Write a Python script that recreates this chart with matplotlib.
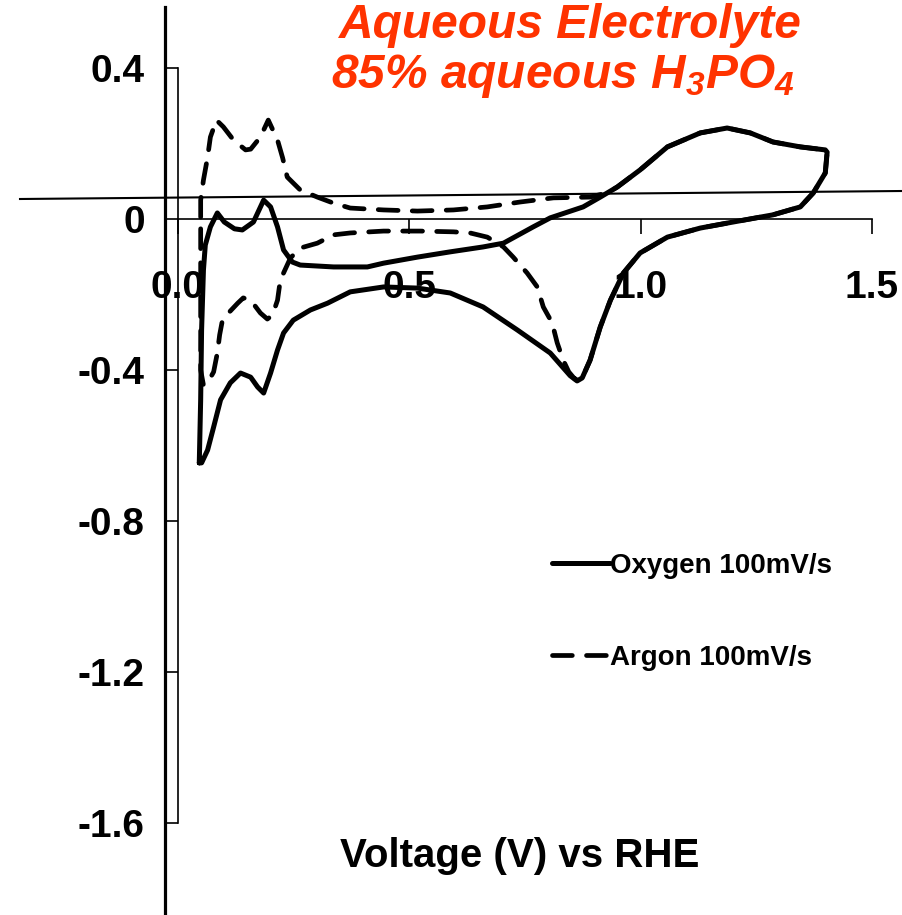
"""
Cyclic voltammograms in 85% H3PO4, oxygen vs argon saturated
"""

import numpy as np
import matplotlib
matplotlib.use("Agg")
import matplotlib.pyplot as plt
from matplotlib.lines import Line2D

# scan 0.05 -> 1.4 V and back, oxygen saturated
o2_v = [0.047, 0.050, 0.052, 0.056, 0.060, 0.071, 0.086, 0.101, 0.123, 0.140,
        0.164, 0.186, 0.201, 0.216, 0.229, 0.248, 0.265, 0.337, 0.410, 0.445,
        0.518, 0.589, 0.660, 0.704, 0.768, 0.805, 0.876, 0.913, 0.950, 0.999,
        1.058, 1.129, 1.187, 1.237, 1.286, 1.345, 1.399, 1.403,
        1.399, 1.373, 1.345, 1.286, 1.200, 1.129, 1.058, 0.999, 0.963, 0.935,
        0.913, 0.891, 0.874, 0.863, 0.848, 0.805, 0.734, 0.660, 0.589, 0.518,
        0.445, 0.373, 0.324, 0.287, 0.250, 0.229, 0.216, 0.201, 0.186, 0.173,
        0.158, 0.136, 0.114, 0.093, 0.078, 0.065, 0.052, 0.047]
o2_i = [-0.646, -0.479, -0.294, -0.135, -0.069, -0.021, 0.016, -0.008, -0.026, -0.029,
        -0.008, 0.050, 0.032, -0.021, -0.082, -0.114, -0.122, -0.127, -0.127, -0.117,
        -0.101, -0.087, -0.074, -0.064, -0.021, 0.003, 0.032, 0.058, 0.085, 0.130,
        0.191, 0.228, 0.241, 0.228, 0.204, 0.191, 0.183, 0.177,
        0.122, 0.069, 0.032, 0.011, -0.008, -0.024, -0.048, -0.090, -0.143, -0.215,
        -0.286, -0.374, -0.421, -0.429, -0.415, -0.355, -0.294, -0.233, -0.196, -0.183,
        -0.180, -0.193, -0.223, -0.241, -0.268, -0.302, -0.347, -0.408, -0.461, -0.445,
        -0.419, -0.408, -0.434, -0.479, -0.551, -0.612, -0.646, -0.646]

# same scan, argon saturated
ar_v = [0.050, 0.050, 0.056, 0.065, 0.071, 0.084, 0.099, 0.121, 0.147, 0.158,
        0.179, 0.196, 0.216, 0.227, 0.237, 0.265, 0.302, 0.337, 0.373, 0.445,
        0.518, 0.596, 0.669, 0.740, 0.812, 0.891, 0.930, 0.950, 0.999, 1.058,
        1.129, 1.187, 1.237, 1.286, 1.345, 1.399, 1.403,
        1.399, 1.373, 1.345, 1.286, 1.200, 1.129, 1.058, 0.999, 0.963, 0.935,
        0.913, 0.891, 0.874, 0.858, 0.845, 0.833, 0.820, 0.809, 0.790, 0.777,
        0.755, 0.725, 0.704, 0.669, 0.632, 0.596, 0.524, 0.445, 0.373, 0.337,
        0.302, 0.265, 0.244, 0.232, 0.222, 0.216, 0.205, 0.194, 0.179, 0.158,
        0.142, 0.130, 0.110, 0.097, 0.091, 0.086, 0.078, 0.065, 0.056, 0.050,
        0.050, 0.050]
ar_i = [0.005, 0.050, 0.103, 0.164, 0.217, 0.262, 0.244, 0.209, 0.183, 0.185,
        0.217, 0.262, 0.209, 0.162, 0.111, 0.077, 0.058, 0.042, 0.029, 0.024,
        0.021, 0.024, 0.032, 0.045, 0.056, 0.058, 0.070, 0.085, 0.130, 0.191,
        0.228, 0.241, 0.228, 0.204, 0.191, 0.183, 0.177,
        0.122, 0.069, 0.032, 0.011, -0.008, -0.024, -0.048, -0.090, -0.143, -0.215,
        -0.286, -0.374, -0.421, -0.424, -0.405, -0.374, -0.328, -0.275, -0.233, -0.180,
        -0.143, -0.101, -0.074, -0.048, -0.037, -0.034, -0.032, -0.032, -0.037, -0.042,
        -0.064, -0.077, -0.103, -0.135, -0.162, -0.215, -0.255, -0.265, -0.249, -0.215,
        -0.209, -0.223, -0.249, -0.268, -0.307, -0.355, -0.405, -0.434, -0.440, -0.400,
        -0.215, 0.005]

xticks = [0.0, 0.5, 1.0, 1.5]
xlabels = ["0.0", "0.5", "1.0", "1.5"]
yticks = [0.4, 0.0, -0.4, -0.8, -1.2, -1.6]
ylabels = ["0.4", "0", "-0.4", "-0.8", "-1.2", "-1.6"]

plt.rcParams["font.family"] = ["Liberation Sans", "DejaVu Sans"]
plt.rcParams["font.weight"] = "bold"
plt.rcParams["mathtext.fontset"] = "custom"
plt.rcParams["mathtext.rm"] = "Liberation Sans:italic:bold"
plt.rcParams["mathtext.it"] = "Liberation Sans:italic:bold"
plt.rcParams["mathtext.bf"] = "Liberation Sans:italic:bold"

fig = plt.figure(figsize=[9.02, 9.15], dpi=100)
fig.patch.set_facecolor("white")
ax = fig.add_axes([0.1968, 0.1005, 0.770, 0.8252])

ax.plot(np.array(o2_v), np.array(o2_i), color="black", lw=3.6,
        solid_joinstyle="round", solid_capstyle="round", label="Oxygen 100mV/s")
ax.plot(np.array(ar_v), np.array(ar_i), color="black", lw=3.4,
        dashes=(4.2, 3.0), dash_capstyle="round", label="Argon 100mV/s")

ax.set_xlim(0, 1.5)
ax.set_ylim(-1.6, 0.4)

ax.spines["top"].set_visible(False)
ax.spines["right"].set_visible(False)
ax.spines["left"].set_position(("data", 0))
ax.spines["bottom"].set_position(("data", 0))
for s in ["left", "bottom"]:
    ax.spines[s].set_linewidth(1.2)

ax.set_xticks(xticks)
ax.set_xticklabels(xlabels, fontsize=28, fontweight="bold")
ax.set_yticks(yticks)
ax.set_yticklabels(ylabels, fontsize=28, fontweight="bold")
ax.tick_params(axis="x", direction="out", length=10.8, width=1.2, pad=26)
ax.tick_params(axis="y", direction="out", length=8.6, width=1.2, pad=15)

fig.text(520 / 902, 1 - 856 / 915, "Voltage (V) vs RHE", ha="center", va="center",
         fontsize=29, fontweight="bold")

red = "#ff3300"
fig.text(570 / 902, 1 - 38 / 915, "Aqueous Electrolyte", ha="center", va="baseline",
         color=red, fontsize=34.5, fontweight="bold", fontstyle="italic")
fig.text(563 / 902, 1 - 88 / 915, "85% aqueous H$_3$PO$_4$", ha="center", va="baseline",
         color=red, fontsize=34.5, fontweight="bold", fontstyle="italic")

ax.legend(loc="upper left", bbox_to_anchor=(552 / 902, 1 - 553 / 915),
          bbox_transform=fig.transFigure, frameon=False, borderpad=0,
          borderaxespad=0, handlelength=2.1, handletextpad=0.0,
          labelspacing=2.37, prop={"size": 20, "weight": "bold"})

# stray guide lines over the plot
fig.add_artist(Line2D([164.5 / 902, 164.5 / 902], [1 - 7 / 915, 0],
                      transform=fig.transFigure, color="black", lw=2.3))
fig.add_artist(Line2D([20 / 902, 1.0], [1 - 199 / 915, 1 - 191 / 915],
                      transform=fig.transFigure, color="black", lw=1.5))

plt.savefig("out.png", dpi=100)
